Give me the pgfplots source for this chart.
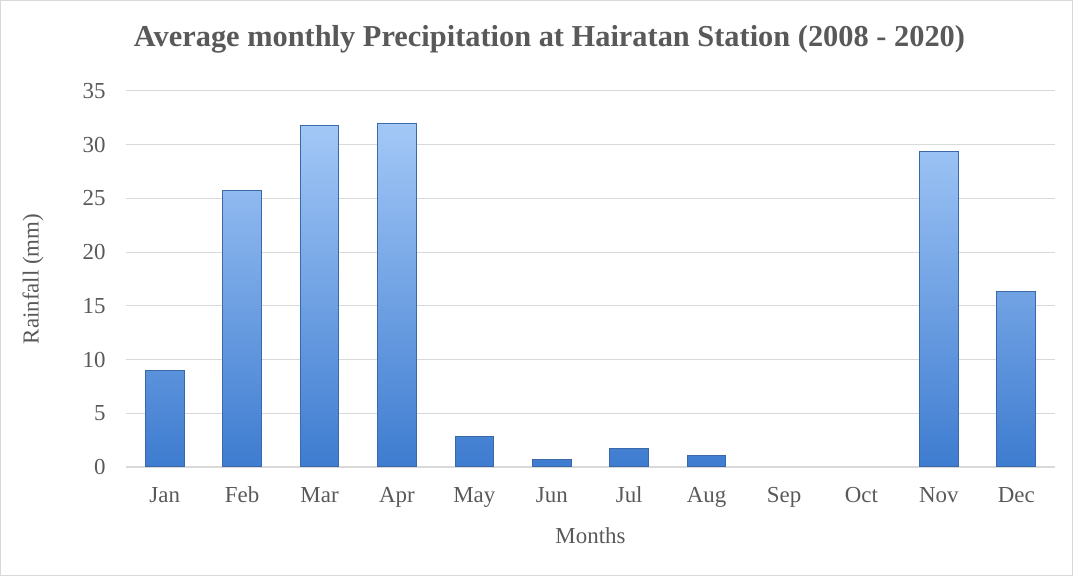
\documentclass[border=0pt]{standalone}
\usepackage{fontspec}
\setmainfont{Liberation Serif}
\usepackage{pgfplots}
\pgfplotsset{compat=1.18}
\definecolor{txt}{HTML}{595959}
\definecolor{grid}{HTML}{D9D9D9}
\definecolor{bartop}{HTML}{A3C8F7}
\definecolor{barbot}{HTML}{3E7CD0}
\definecolor{baredge}{HTML}{3A68A8}
\begin{document}
\begin{tikzpicture}
\path[use as bounding box] (0,0) rectangle (1073bp,576bp);
\draw[color=grid, line width=1bp] (0.5bp,0.5bp) rectangle (1072.5bp,575.5bp);
\begin{axis}[
  at={(126bp,109bp)}, anchor=south west,
  scale only axis, width=929bp, height=376bp,
  xmin=-0.5, xmax=11.5, ymin=0, ymax=35,
  xtick={0,1,2,3,4,5,6,7,8,9,10,11},
  xticklabels={Jan,Feb,Mar,Apr,May,Jun,Jul,Aug,Sep,Oct,Nov,Dec},
  ytick={0,5,10,15,20,25,30,35},
  ymajorgrids, grid style={color=grid, line width=1bp},
  axis x line*=bottom, axis y line*=left,
  x axis line style={color=grid, line width=1.2bp, -},
  y axis line style={draw=none},
  major tick length=0pt,
  tick label style={font=\fontsize{23}{26}\selectfont, text=txt},
  /pgf/number format/assume math mode=true,
  xticklabel style={anchor=center, yshift=-33bp, text height=0.7em, text depth=0.25em},
  yticklabel style={anchor=east, xshift=-17bp},
  xlabel={Months}, ylabel={Rainfall (mm)},
  label style={font=\fontsize{23}{26}\selectfont, text=txt},
  xlabel style={at={(axis description cs:0.5,0)}, anchor=center, yshift=-69bp},
  ylabel style={at={(axis description cs:-0.1001,0.5)}, anchor=center, rotate=0},
  title={Average monthly Precipitation at Hairatan Station (2008 - 2020)},
  title style={font=\bfseries\fontsize{30.5}{33}\selectfont, text=txt, at={(axis description cs:0.5,1)}, anchor=center, yshift=46bp, xshift=-41bp},
  clip=false,
]
\addplot[ybar, bar width=0.5, draw=baredge, line width=1bp, top color=bartop, bottom color=barbot]
coordinates {(0,9.0) (1,25.7) (2,31.8) (3,32.0) (4,2.8) (5,0.7) (6,1.7) (7,1.1) (10,29.4) (11,16.3)};
\end{axis}
\end{tikzpicture}
\end{document}
